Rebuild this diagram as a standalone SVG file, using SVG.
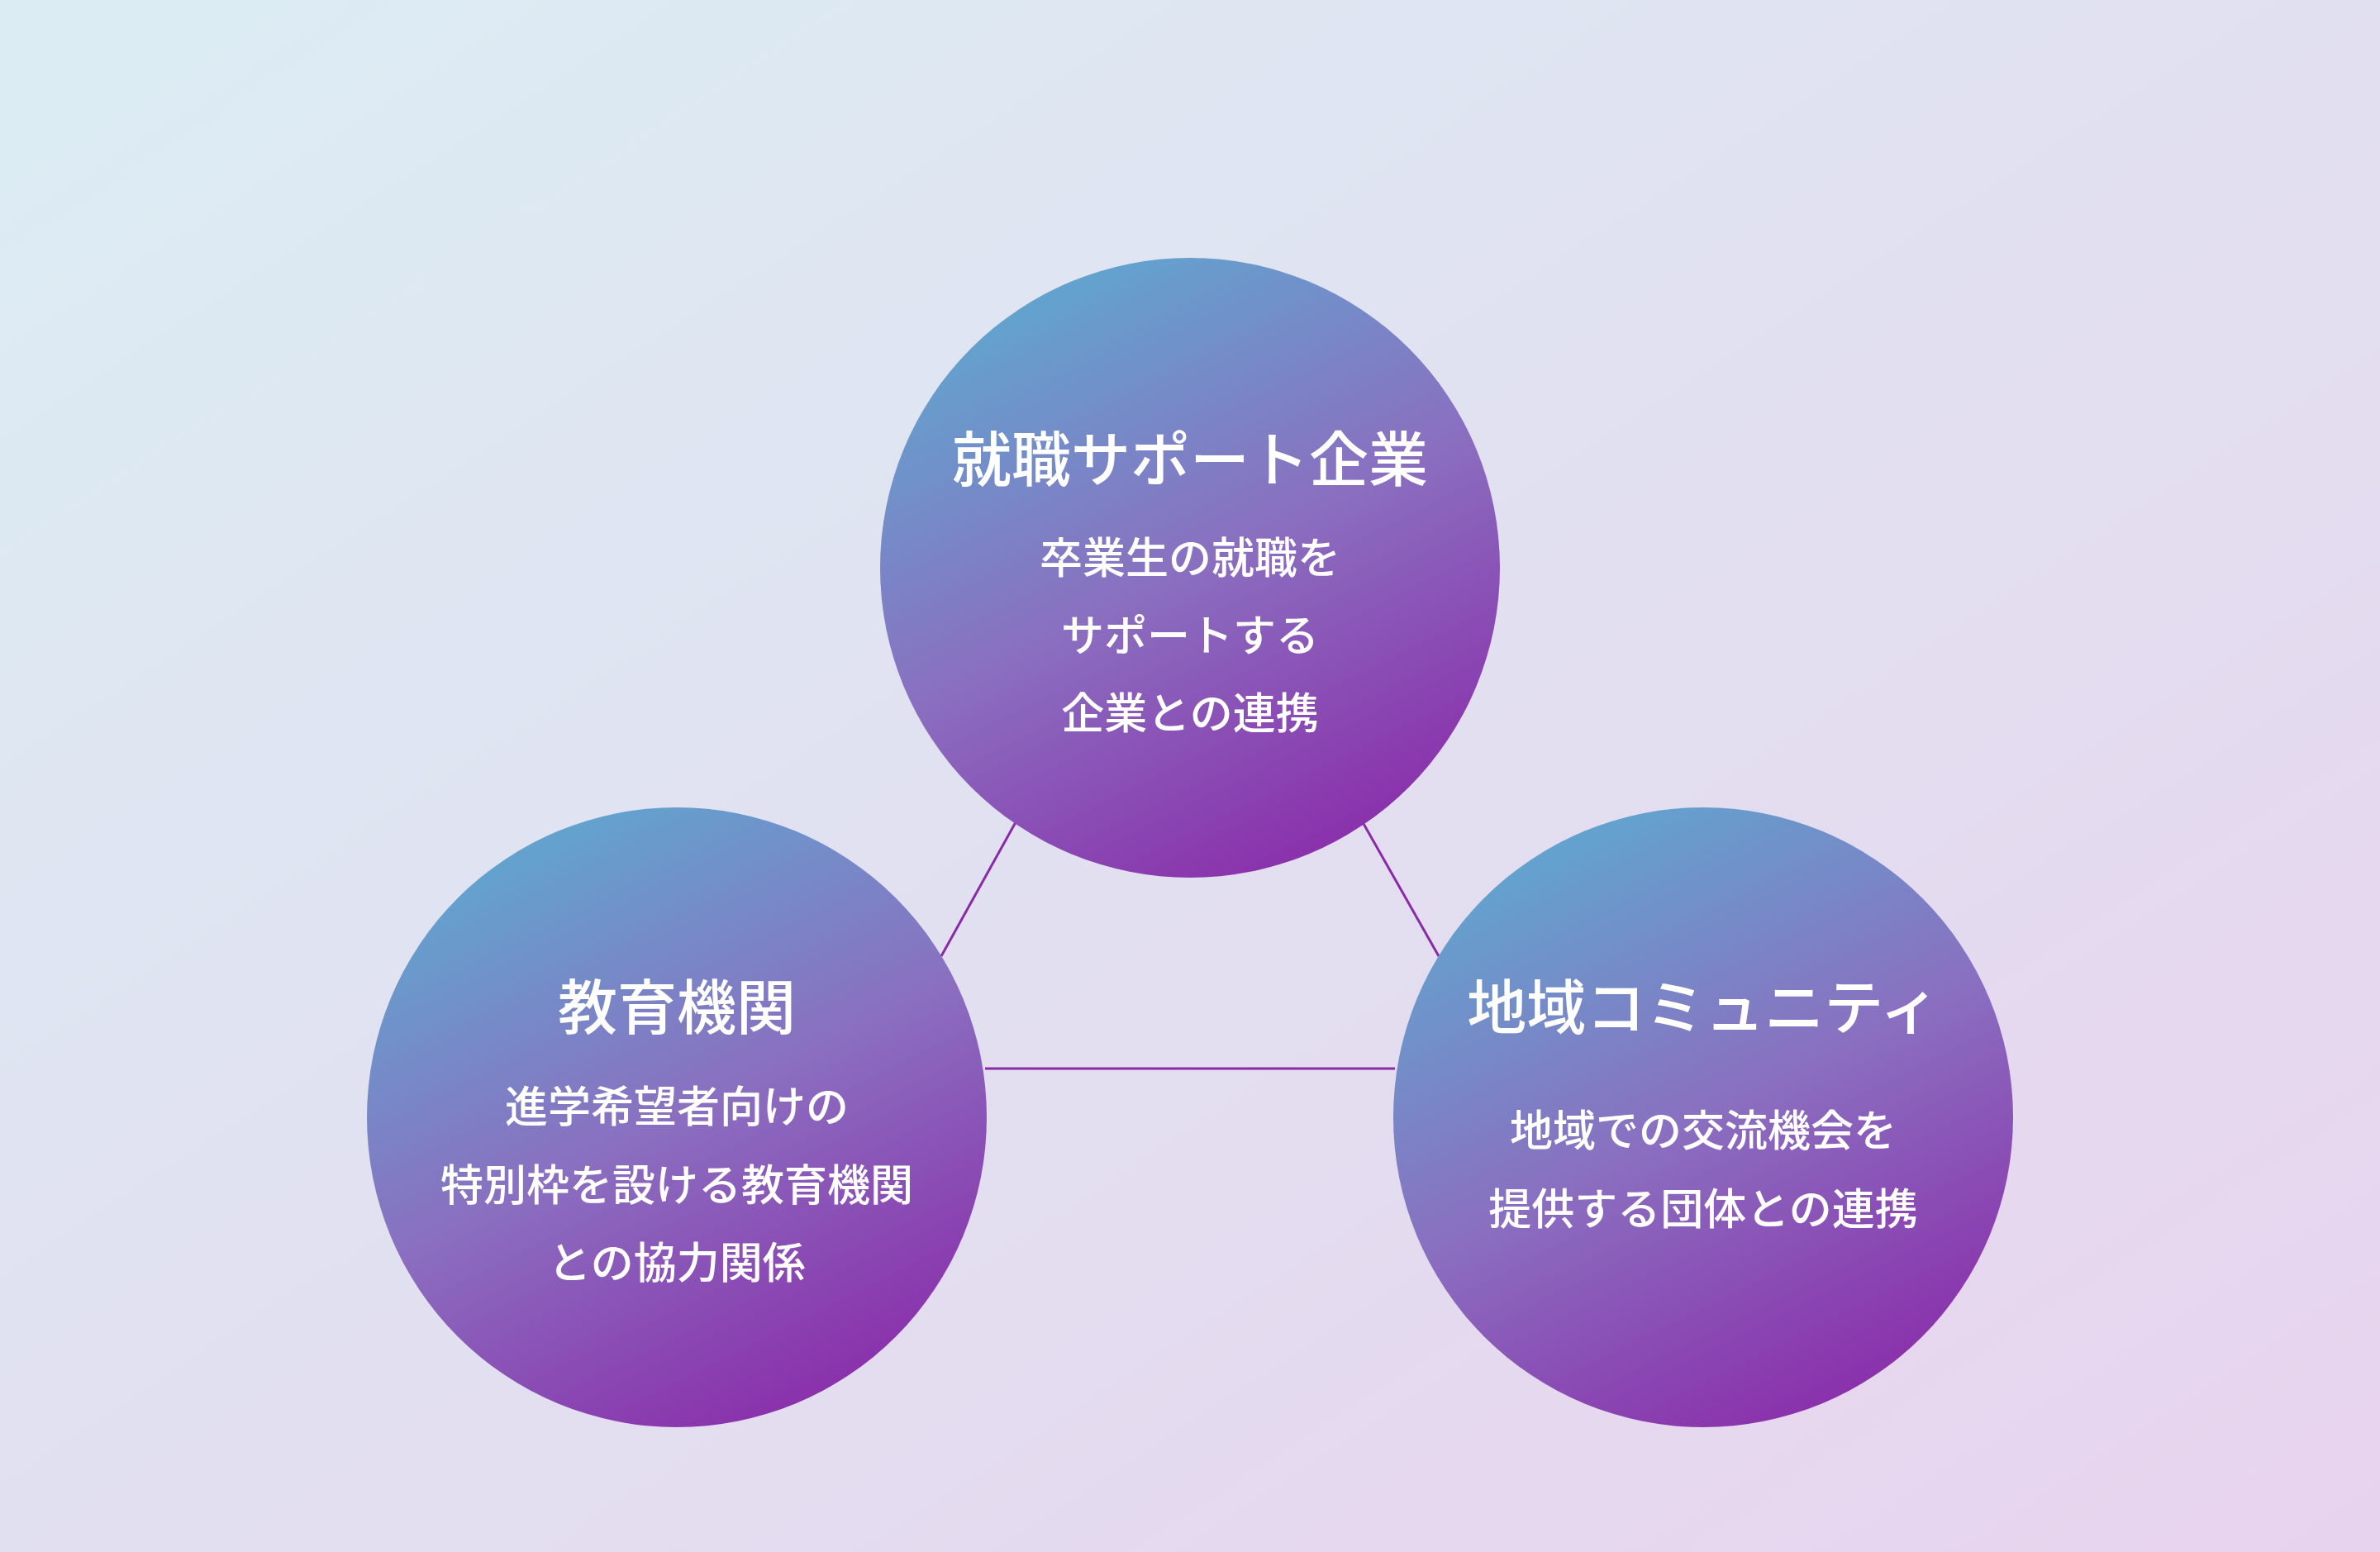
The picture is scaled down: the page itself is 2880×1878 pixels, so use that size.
<svg xmlns="http://www.w3.org/2000/svg" width="2880" height="1878" viewBox="0 0 2880 1878">
<defs>
<linearGradient id="bg" x1="0" y1="0" x2="1" y2="1">
<stop offset="0" stop-color="#dbedf3"/><stop offset="1" stop-color="#e8d3ee"/>
</linearGradient>
<linearGradient id="cg" x1="0.25" y1="0" x2="0.75" y2="1">
<stop offset="0" stop-color="#5ea9d0"/><stop offset="0.5" stop-color="#8a6fc0"/><stop offset="1" stop-color="#8a2aa9"/>
</linearGradient>
<style>
.c{fill:url(#cg)}
.t{font-family:"Noto Sans CJK JP",sans-serif;fill:#fff;text-anchor:middle}
.h{font-size:72px;font-weight:500}
.s{font-size:52px;font-weight:500}
.ln{stroke:#8a2aa8;stroke-width:3;fill:none}
</style>
</defs>
<rect width="2880" height="1878" fill="url(#bg)"/>
<g id="connectors">
<line class="ln" x1="1229" y1="995" x2="1139" y2="1157"/>
<line class="ln" x1="1649" y1="995" x2="1741" y2="1157"/>
<line class="ln" x1="1192" y1="1293" x2="1688" y2="1293"/>
</g>
<g id="top">
<circle class="c" cx="1440" cy="687" r="375"/>
<text class="t h" x="1440" y="582">就職サポート企業</text>
<text class="t s" x="1440" y="694">卒業生の就職を</text>
<text class="t s" x="1440" y="788">サポートする</text>
<text class="t s" x="1440" y="882">企業との連携</text>
</g>
<g id="left">
<circle class="c" cx="819" cy="1352" r="375"/>
<text class="t h" x="819" y="1245">教育機関</text>
<text class="t s" x="819" y="1358">進学希望者向けの</text>
<text class="t s" x="819" y="1453">特別枠を設ける教育機関</text>
<text class="t s" x="819" y="1547">との協力関係</text>
</g>
<g id="right">
<circle class="c" cx="2061" cy="1352" r="375"/>
<text class="t h" x="2061" y="1245">地域コミュニティ</text>
<text class="t s" x="2061" y="1387">地域での交流機会を</text>
<text class="t s" x="2061" y="1482">提供する団体との連携</text>
</g>
</svg>
